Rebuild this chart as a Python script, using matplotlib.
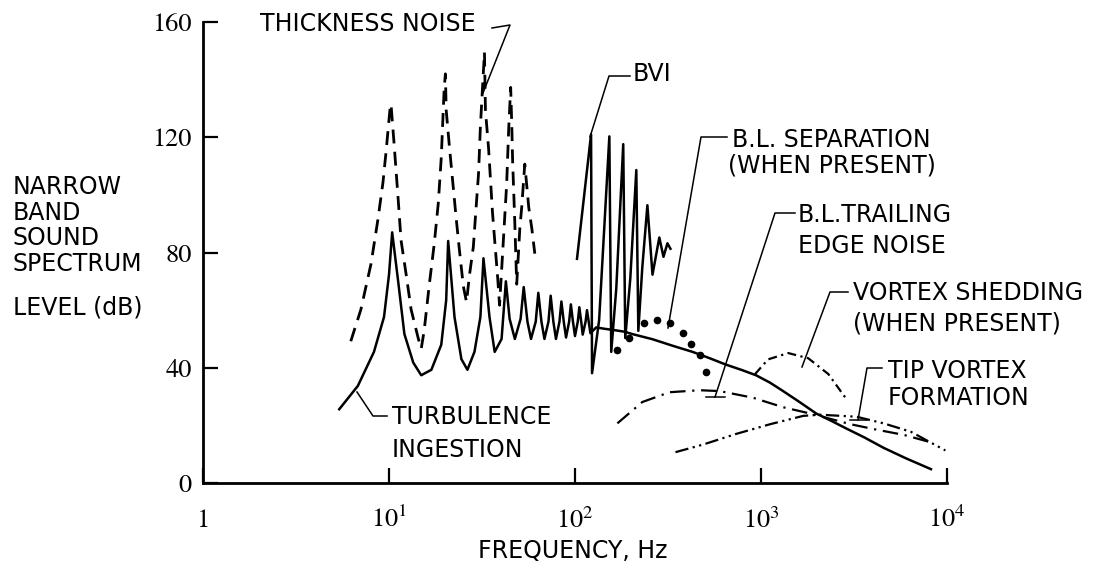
import matplotlib.pyplot as plt
from matplotlib.lines import Line2D
from matplotlib.ticker import NullLocator

W, H = 1096, 571

# thickness noise (dashed), Hz / dB
thick_f = [6.23, 7.06, 8.0, 8.72, 9.28, 9.64, 10.12, 10.25, 10.64, 11.19, 11.61, 12.37, 13.15,
           14.35, 14.9, 15.45, 16.45, 17.5, 18.4, 19.1, 19.8, 20.1, 20.3, 21.1, 22.2, 23.0,
           23.9, 25.1, 26.1, 27.1, 28.4, 29.5, 30.3, 31.0, 32.6, 33.0, 34.3, 36.0, 37.0,
           38.4, 39.3, 41.3, 42.9, 44.0, 45.1, 45.7, 46.2, 47.4, 48.6, 50.5, 51.7, 53.7,
           56.4, 58.6, 60.8]
thick_db = [49.2, 60.2, 76, 91.5, 104.3, 114.9, 129.7, 131.5, 118.1, 98.9, 84.2, 72.3, 60.2,
            50.3, 46.6, 52.8, 68.6, 82.9, 97, 113, 137, 142, 129.4, 117.1, 102, 91.5,
            81, 68.3, 62.8, 72.3, 81.9, 97, 107.5, 123.7, 149.5, 129.4, 116.2, 94, 84.2,
            71.2, 61.7, 85.4, 103.6, 122.7, 137.3, 124.7, 111.8, 91.5, 69, 88.3, 95.7, 110.7,
            95.7, 88.3, 79.6]

# turbulence ingestion (solid)
turb_f = [5.4, 6.8, 8.3, 9.4, 10.0, 10.4, 11.2, 12.1, 13.5, 14.9,
          16.9, 19.1, 20.3, 20.8, 22.5, 24.5, 26.4, 28.8, 31.0, 32.2,
          34.7, 37.0, 40.3, 42.5, 44.5, 47.5, 51.0, 53.0, 55.5, 58.0,
          61.5, 63.5, 66.0, 68.5, 72.0, 74.0, 76.5, 79.0, 82.5, 84.5,
          87.0, 89.5, 93.0, 95.0, 97.5, 100, 103.5, 105.5, 108, 110,
          114, 116, 118.5, 121, 130, 145, 165, 185, 203, 261,
          340, 429, 530, 647, 790, 940, 1120, 1315, 1620, 1983,
          2400, 2878, 3600, 4563, 6000, 8200]
turb_db = [25.6, 33.7, 45.5, 57.6, 72.3, 87, 70, 51.7, 41.8, 37.4,
           39.3, 48, 63.5, 84, 57.6, 43, 39.3, 45.5, 57.6, 78,
           57.6, 45.5, 50, 70, 57, 50, 57, 68, 56, 50,
           56, 66, 56, 50, 56, 65, 56, 50, 56, 63,
           56, 50.5, 56, 62, 56, 51, 56, 61, 56, 51.5,
           56, 60, 56, 52, 54, 53.5, 53, 52.5, 51.7, 49.9,
           47.5, 45.5, 43.3, 41.1, 39.2, 37.4, 34.8, 31.9, 28, 24.1,
           21.5, 18.9, 15.8, 12.2, 8.6, 4.8]

# blade-vortex interaction (solid)
bvi_f = [102.5, 122, 123.5, 134.8, 153, 156.6, 166.7, 181.7, 186.3, 198.3,
         213.6, 219, 230, 245, 261, 284, 299, 314, 326]
bvi_db = [77.8, 121, 38.1, 56.5, 120.3, 45.5, 67.5, 117.6, 50.3, 71,
          108.6, 52.8, 74.7, 96.4, 72.3, 85.2, 78.5, 83.2, 81.3]

# boundary layer separation (dots)
sep_f = [169, 196, 236, 277, 326, 379, 419, 468, 504]
sep_db = [46.2, 50.3, 55.4, 56.5, 55.4, 52.1, 48.4, 44.4, 38.5]

# boundary layer trailing edge noise (dash-dot)
te_f = [169, 230, 322, 468, 600, 905, 1315, 1841, 3030, 4190, 5860, 8200]
te_db = [20.7, 28.1, 31.5, 32.2, 31.9, 29.6, 26.3, 24.1, 20.4, 18.5, 16.7, 14.1]

# vortex shedding
vs_f = [929, 1091, 1400, 1795, 2302, 2844]
vs_db = [37.8, 42.9, 45.1, 43.3, 37.8, 29.6]

# tip vortex formation
tv_f = [347, 486, 732, 1119, 1687, 2084, 3265, 4563, 6383, 9800]
tv_db = [10.7, 13.3, 17.0, 20.4, 23.3, 23.7, 23.0, 20.7, 17.8, 11.3]

x_ticks = [1, 10, 100, 1000, 10000]
x_labels = ['1', '$10^1$', '$10^2$', '$10^3$', '$10^4$']
y_ticks = [0, 40, 80, 120, 160]

plt.rcParams['mathtext.fontset'] = 'stix'
TXT = dict(family='DejaVu Sans', fontsize=17, color='black')

fig = plt.figure(figsize=(W / 100, H / 100), dpi=100)
ax = fig.add_axes([203 / W, 1 - 483 / H, 744 / W, 461 / H])

ax.plot(thick_f, thick_db, color='black', lw=2, linestyle=(0, (5, 3)))
ax.plot(turb_f, turb_db, color='black', lw=1.8)
ax.plot(bvi_f, bvi_db, color='black', lw=1.8)
ax.plot(sep_f, sep_db, 'o', color='black', ms=4.5)
ax.plot(te_f, te_db, color='black', lw=1.6, linestyle=(0, (7, 3, 1, 3)))
ax.plot(vs_f, vs_db, color='black', lw=1.6, linestyle=(0, (4, 2, 1, 2)))
ax.plot(tv_f, tv_db, color='black', lw=1.6, linestyle=(0, (6, 2, 1, 2, 1, 2)))

ax.set_xscale('log')
ax.set_xlim(1, 1e4)
ax.set_ylim(0, 160)
ax.set_xticks(x_ticks)
ax.set_xticklabels(x_labels)
ax.xaxis.set_minor_locator(NullLocator())
ax.set_yticks(y_ticks)
ax.set_yticklabels([str(v) for v in y_ticks])
for s in ['top', 'right']:
    ax.spines[s].set_visible(False)
for s in ['left', 'bottom']:
    ax.spines[s].set_linewidth(2)
ax.tick_params(direction='in', length=11, width=1.6, labelsize=19)
ax.tick_params(axis='y', pad=8)
ax.tick_params(axis='x', pad=32)
for lab in ax.get_xticklabels() + ax.get_yticklabels():
    lab.set_family('STIXGeneral')
for lab in ax.get_xticklabels():
    lab.set_verticalalignment('baseline')


def fxy(x, y):
    return x / W, 1 - y / H


def label(x, y, s):
    fig.text(*fxy(x, y), s, ha='left', va='center', **TXT)


def leader(pts):
    xs, ys = zip(*[fxy(*p) for p in pts])
    fig.add_artist(Line2D(xs, ys, transform=fig.transFigure, color='black', lw=1.1))


for i, s in enumerate(['NARROW', 'BAND', 'SOUND', 'SPECTRUM']):
    label(13, 187 + 25.7 * i, s)
label(13, 308, 'LEVEL (dB)')

label(260, 24, 'THICKNESS NOISE')
leader([(492, 28), (510, 25), (483, 93)])

label(633, 74, 'BVI')
leader([(630, 76), (609, 76), (590, 137)])

label(732, 140, 'B.L. SEPARATION')
label(728, 165, '(WHEN PRESENT)')
leader([(727, 137), (701, 137), (668, 328)])

label(798, 215, 'B.L.TRAILING')
label(798, 246, 'EDGE NOISE')
leader([(795, 213), (775, 213), (715, 397)])
leader([(706, 397), (725, 397)])

label(853, 293, 'VORTEX SHEDDING')
label(853, 323, '(WHEN PRESENT)')
leader([(848, 292), (830, 292), (802, 367)])

label(888, 371, 'TIP VORTEX')
label(888, 398, 'FORMATION')
leader([(882, 368), (867, 368), (858, 420)])
leader([(850, 420), (867, 420)])

label(392, 417, 'TURBULENCE')
label(392, 450, 'INGESTION')
leader([(387, 416), (373, 416), (357, 392)])

label(478, 551, 'FREQUENCY, Hz')

fig.savefig('out.png', dpi=100, facecolor='white')
